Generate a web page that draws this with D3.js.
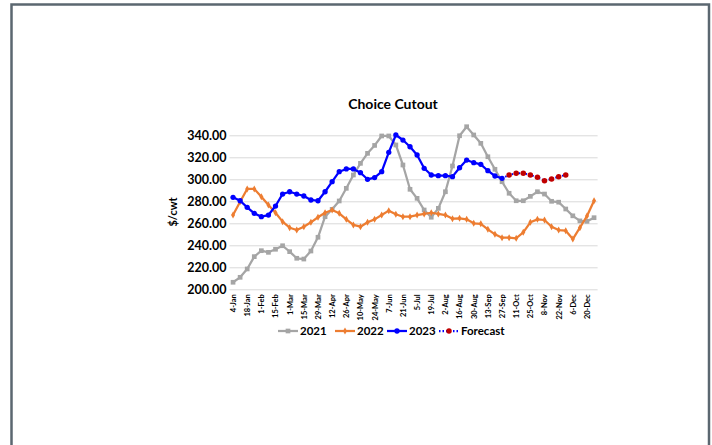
<!DOCTYPE html>
<html><head><meta charset="utf-8">
<script src="https://cdn.jsdelivr.net/npm/d3@7"></script>
<style>body{margin:0;background:#fff}svg{display:block}text{font-family:Lato,"Open Sans",sans-serif;font-weight:bold;fill:#000}</style>
</head><body><svg id="c" width="712" height="445"></svg>
<script>
const weeks = ["4-Jan","11-Jan","18-Jan","25-Jan","1-Feb","8-Feb","15-Feb","22-Feb","1-Mar","8-Mar","15-Mar","22-Mar","29-Mar","5-Apr","12-Apr","19-Apr","26-Apr","3-May","10-May","17-May","24-May","31-May","7-Jun","14-Jun","21-Jun","28-Jun","5-Jul","12-Jul","19-Jul","26-Jul","2-Aug","9-Aug","16-Aug","23-Aug","30-Aug","6-Sep","13-Sep","20-Sep","27-Sep","4-Oct","11-Oct","18-Oct","25-Oct","1-Nov","8-Nov","15-Nov","22-Nov","29-Nov","6-Dec","13-Dec","20-Dec","27-Dec"];
const s2021 = [206.4,210.9,218.5,229.7,235.1,233.6,236.4,239.6,234.2,228.2,227.5,234.8,247.3,266.0,272.7,280.3,291.8,303.9,314.5,323.6,330.8,339.4,339.4,331.2,313.0,290.9,282.7,272.1,265.5,273.6,288.7,312.1,339.6,347.8,340.3,332.7,320.5,309.1,297.8,287.3,280.5,280.5,284.5,288.7,286.6,280.0,279.2,273.0,266.8,262.2,261.8,265.1];
const s2022 = [267.5,279.6,291.2,291.2,284.2,276.6,269.6,261.5,256.0,253.9,256.9,260.9,265.5,269.6,272.1,269.1,263.6,258.5,256.9,260.9,263.6,267.5,271.5,268.2,266.0,266.0,267.5,268.5,269.6,268.5,267.5,264.2,264.5,263.6,260.0,259.5,254.5,250.0,246.9,246.9,246.4,251.8,260.9,263.6,263.0,256.9,253.9,253.3,245.7,256.0,266.6,280.5];
const s2023 = [283.6,280.5,274.5,269.1,266.0,267.5,275.7,286.6,288.7,286.6,284.8,281.2,280.5,288.7,297.8,306.9,309.4,309.4,306.0,300.0,301.6,306.9,324.5,340.3,335.7,329.6,322.1,310.0,303.9,303.3,303.3,302.4,310.5,317.5,315.1,313.6,307.8,303.0,300.9];
const forecastStart = 38;
const forecast = [300.9,303.9,305.5,305.5,303.9,301.8,298.7,300.3,302.4,303.9];
const yTicks = [200,220,240,260,280,300,320,340];
const seriesNames = ["2021","2022","2023","Forecast"];

const svg = d3.select("#c");
svg.append("rect").attr("width",712).attr("height",445).attr("fill","#fff");
svg.append("rect").attr("x",11.5).attr("y",4.5).attr("width",697.5).attr("height",470)
  .attr("fill","none").attr("stroke","#5b6770").attr("stroke-width",2.5);

const L=229.5, R=597.6, T=135.3, B=289.3;
const x = d3.scalePoint().domain(weeks).range([L,R]).padding(0.5);
const y = d3.scaleLinear().domain([200,340]).range([B,T]);

svg.append("text").attr("x",393).attr("y",109).attr("text-anchor","middle")
  .style("font-size","14px").text("Choice Cutout");

const gy = svg.append("g").attr("transform",`translate(${L},0)`)
  .call(d3.axisLeft(y).tickValues(yTicks).tickSize(-(R-L)).tickPadding(3).tickFormat(d3.format(".2f")));
gy.select(".domain").remove();
gy.selectAll(".tick line").attr("stroke","#d9d9d9");
gy.selectAll(".tick text").style("font-size","12.5px").attr("font-family",null);

svg.append("text").attr("transform",`translate(177,212) rotate(-90)`).attr("text-anchor","middle")
  .style("font-size","11px").text("$/cwt");

const gx = svg.append("g").attr("transform",`translate(0,${B})`)
  .call(d3.axisBottom(x).tickValues(weeks.filter((d,i)=>i%2===0)).tickSize(0).tickPadding(0));
gx.select(".domain").remove();
gx.selectAll(".tick text").attr("transform","rotate(-90)").attr("text-anchor","end")
  .attr("x",-5).attr("y",0).attr("dy","0.32em").attr("font-family",null).style("font-size","7.5px");

const line = d3.line().defined(d=>d[1]!=null).x(d=>x(weeks[d[0]])).y(d=>y(d[1]));
function pts(arr,off){return arr.map((v,i)=>[i+off,v]);}

const data = {
  "2021": pts(s2021,0), "2022": pts(s2022,0), "2023": pts(s2023,0),
  "Forecast": pts(forecast,forecastStart)
};
const col = {"2021":"#a5a5a5","2022":"#ed7d31","2023":"#0000ff","Forecast":"#0000ff"};
const mk = {"2021":"#a5a5a5","2022":"#ed7d31","2023":"#0000ff","Forecast":"#c00000"};
const sym = {"2021":d3.symbolSquare,"2022":d3.symbolDiamond,"2023":d3.symbolCircle,"Forecast":d3.symbolCircle};
const sz = {"2021":22,"2022":14,"2023":22,"Forecast":24};

["2021","2022","Forecast","2023"].forEach(n=>{
  svg.append("path").datum(data[n]).attr("d",line).attr("fill","none")
    .attr("stroke",col[n]).attr("stroke-width",n==="Forecast"?2:2.25)
    .attr("stroke-dasharray",n==="Forecast"?"1.5,2":null).attr("stroke-linejoin","round");
  svg.append("g").selectAll("path").data(n==="Forecast"?data[n].slice(1):data[n]).join("path")
    .attr("transform",d=>`translate(${x(weeks[d[0]])},${y(d[1])})`)
    .attr("d",d3.symbol(sym[n],sz[n])).attr("fill",mk[n]);
});

// legend
const lg = [{n:"2021",x:278},{n:"2022",x:335},{n:"2023",x:387},{n:"Forecast",x:439}];
const ly = 331;
lg.forEach(o=>{
  const g = svg.append("g");
  g.append("line").attr("x1",o.x).attr("x2",o.x+20).attr("y1",ly).attr("y2",ly)
    .attr("stroke",col[o.n]).attr("stroke-width",2.25).attr("stroke-dasharray",o.n==="Forecast"?"1.5,2":null);
  g.append("path").attr("transform",`translate(${o.x+10},${ly})`).attr("d",d3.symbol(sym[o.n],sz[o.n])).attr("fill",mk[o.n]);
  g.append("text").attr("x",o.x+22).attr("y",ly).attr("dy","0.35em").style("font-size","11.5px").text(o.n);
});
</script></body></html>
